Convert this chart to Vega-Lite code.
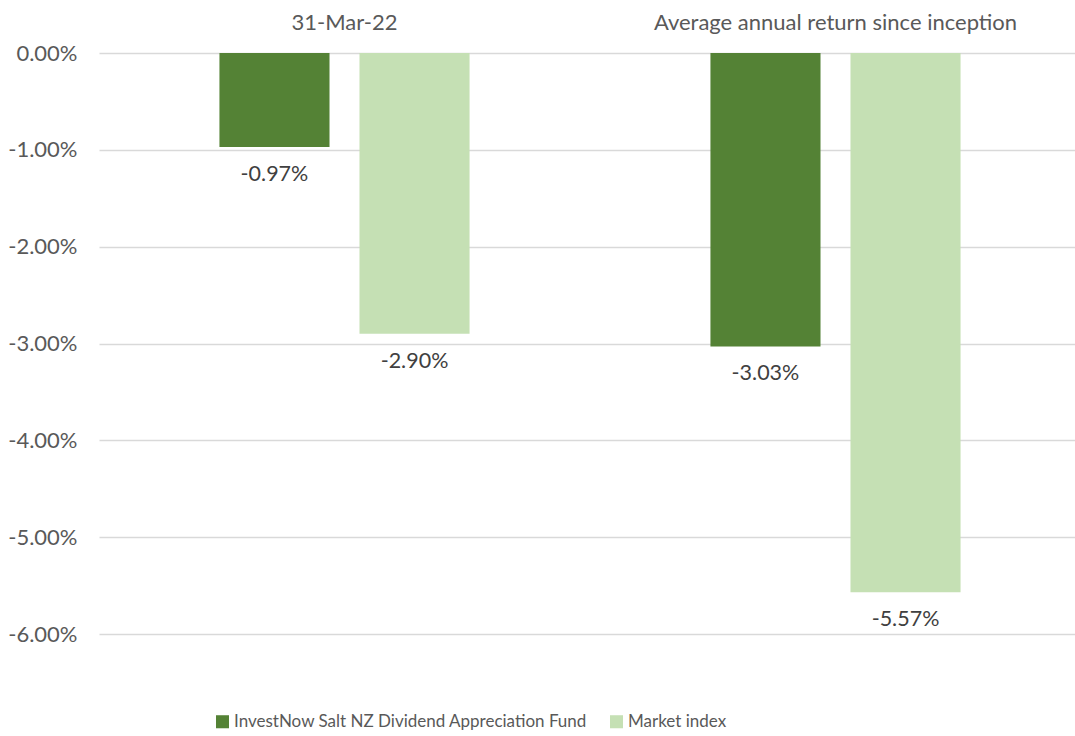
{
  "$schema": "https://vega.github.io/schema/vega-lite/v6.json",
  "width": 976,
  "height": 581,
  "autosize": {"type": "none"},
  "padding": {"left": 99, "top": 53, "right": 0, "bottom": 102},
  "background": "white",
  "config": {
    "view": {"stroke": null},
    "font": "Lato",
    "axis": {"labelFont": "Lato", "labelColor": "#595959", "labelFontSize": 22, "labelLimit": 0},
    "legend": {"labelFont": "Lato", "labelColor": "#595959", "labelFontSize": 17, "labelLimit": 0}
  },
  "data": {
    "values": [
      {"category": "31-Mar-22", "series": "InvestNow Salt NZ Dividend Appreciation Fund", "value": -0.0097},
      {"category": "31-Mar-22", "series": "Market index", "value": -0.029},
      {"category": "Average annual return since inception", "series": "InvestNow Salt NZ Dividend Appreciation Fund", "value": -0.0303},
      {"category": "Average annual return since inception", "series": "Market index", "value": -0.0557}
    ]
  },
  "encoding": {
    "x": {
      "field": "category", "type": "nominal", "sort": null, "title": null,
      "scale": {"paddingInner": 0, "paddingOuter": 0, "range": [0, 982]},
      "axis": {"orient": "top", "domain": false, "ticks": false, "labelAngle": 0, "labelPadding": 19, "grid": false}
    },
    "xOffset": {
      "field": "series", "type": "nominal", "sort": ["InvestNow Salt NZ Dividend Appreciation Fund", "Market index"],
      "scale": {"paddingInner": 0.214, "paddingOuter": 0.86}
    },
    "y": {
      "field": "value", "type": "quantitative", "title": null,
      "scale": {"domain": [-0.06, 0], "nice": false, "zero": true},
      "axis": {"values": [0, -0.01, -0.02, -0.03, -0.04, -0.05, -0.06], "labelExpr": "replace(format(datum.value, '.2%'), '\u2212', '-')", "domain": false, "ticks": false, "labelPadding": 22, "grid": true, "gridColor": "#d9d9d9", "gridWidth": 1.5}
    }
  },
  "layer": [
    {
      "mark": {"type": "bar"},
      "encoding": {
        "color": {
          "field": "series", "type": "nominal", "sort": ["InvestNow Salt NZ Dividend Appreciation Fund", "Market index"],
          "scale": {"domain": ["InvestNow Salt NZ Dividend Appreciation Fund", "Market index"], "range": ["#548235", "#C5E0B4"]},
          "legend": {
            "title": null, "orient": "none", "direction": "horizontal",
            "legendX": 115, "legendY": 660,
            "symbolType": "square", "symbolSize": 170, "symbolStrokeWidth": 0,
            "columnPadding": 20, "labelOffset": 3
          }
        }
      }
    },
    {
      "transform": [{"calculate": "replace(format(datum.value, '.2%'), '\u2212', '-')", "as": "label"}],
      "mark": {"type": "text", "baseline": "middle", "dy": 28, "fontSize": 21.5, "color": "#404040", "font": "Lato"},
      "encoding": {
        "text": {"field": "label", "type": "nominal"}
      }
    }
  ]
}
